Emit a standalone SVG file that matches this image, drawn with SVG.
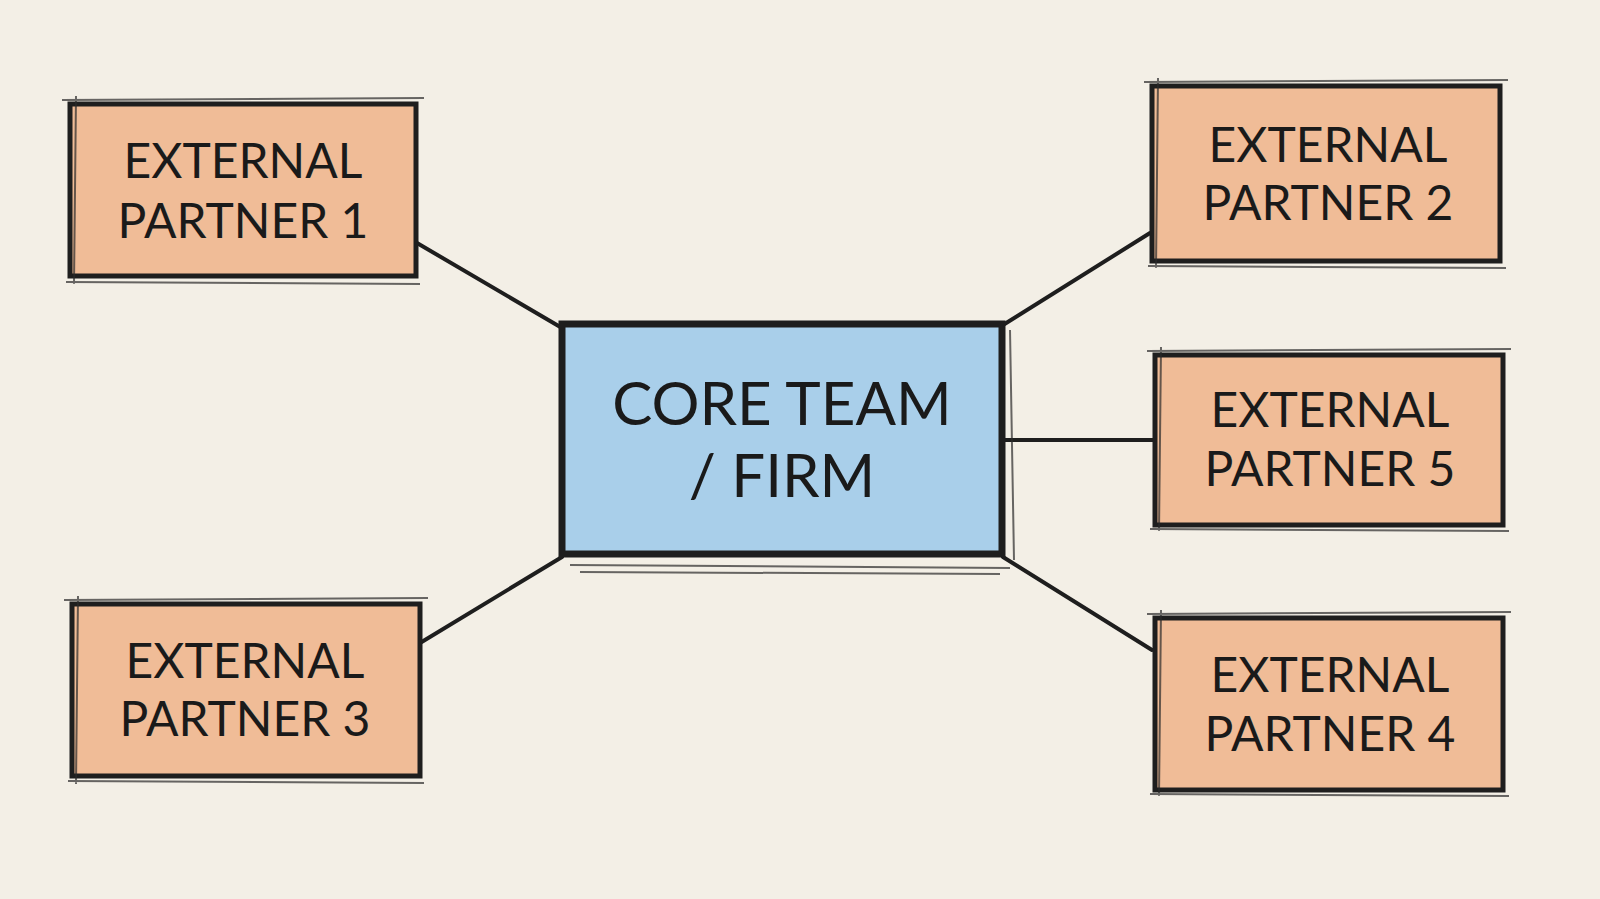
<svg xmlns="http://www.w3.org/2000/svg" width="1600" height="899" viewBox="0 0 1600 899">
<style>
.p{fill:#f0bc97;stroke:#1e1e1e;stroke-width:5}
.c{fill:#a9cfea;stroke:#1e1e1e;stroke-width:7}
.s{fill:none;stroke:#2a2a2a;stroke-width:2;opacity:.7}
.t{font-family:Lato,"Liberation Sans",sans-serif;font-size:48px;fill:#1a1a1a;text-anchor:middle}
.ct{font-size:60px}
.l{stroke:#1e1e1e;stroke-width:4;fill:none;stroke-linecap:round}
</style>
<rect width="1600" height="899" fill="#f3efe6"/>
<g id="connectors">
<line class="l" x1="417" y1="243" x2="562" y2="328"/>
<line class="l" x1="1003" y1="325" x2="1150" y2="233"/>
<line class="l" x1="1003" y1="440" x2="1155" y2="440"/>
<line class="l" x1="1003" y1="557" x2="1152" y2="650"/>
<line class="l" x1="420" y1="643" x2="562" y2="557"/>
</g>
<g id="core">
<path class="s" d="M570 565 L1010 568 M580 572 L1000 574 M1010 330 L1014 560"/>
<rect class="c" x="562" y="324" width="440" height="230"/>
<text class="t ct" x="782" y="425">CORE TEAM</text>
<text class="t ct" x="782" y="497">/ FIRM</text>
</g>
<g id="partner1">
<rect class="p" x="70" y="104" width="346" height="172"/>
<path class="s" d="M62 100 L424 98 M66 282 L420 284 M76 96 L74 284"/>
<text class="t" x="243" y="178">EXTERNAL</text>
<text class="t" x="243" y="238">PARTNER 1</text>
</g>
<g id="partner2">
<rect class="p" x="1152" y="86" width="348" height="175"/>
<path class="s" d="M1144 82 L1508 80 M1148 266 L1506 268 M1158 78 L1156 268"/>
<text class="t" x="1328" y="162">EXTERNAL</text>
<text class="t" x="1328" y="220">PARTNER 2</text>
</g>
<g id="partner5">
<rect class="p" x="1155" y="355" width="348" height="170"/>
<path class="s" d="M1147 351 L1511 349 M1150 529 L1509 531 M1161 347 L1159 531"/>
<text class="t" x="1330" y="427">EXTERNAL</text>
<text class="t" x="1330" y="486">PARTNER 5</text>
</g>
<g id="partner4">
<rect class="p" x="1155" y="618" width="348" height="172"/>
<path class="s" d="M1147 614 L1511 612 M1150 794 L1509 796 M1161 610 L1159 796"/>
<text class="t" x="1330" y="692">EXTERNAL</text>
<text class="t" x="1330" y="751">PARTNER 4</text>
</g>
<g id="partner3">
<rect class="p" x="72" y="604" width="348" height="172"/>
<path class="s" d="M64 600 L428 598 M68 781 L424 783 M78 596 L76 784"/>
<text class="t" x="245" y="678">EXTERNAL</text>
<text class="t" x="245" y="736">PARTNER 3</text>
</g>
</svg>
